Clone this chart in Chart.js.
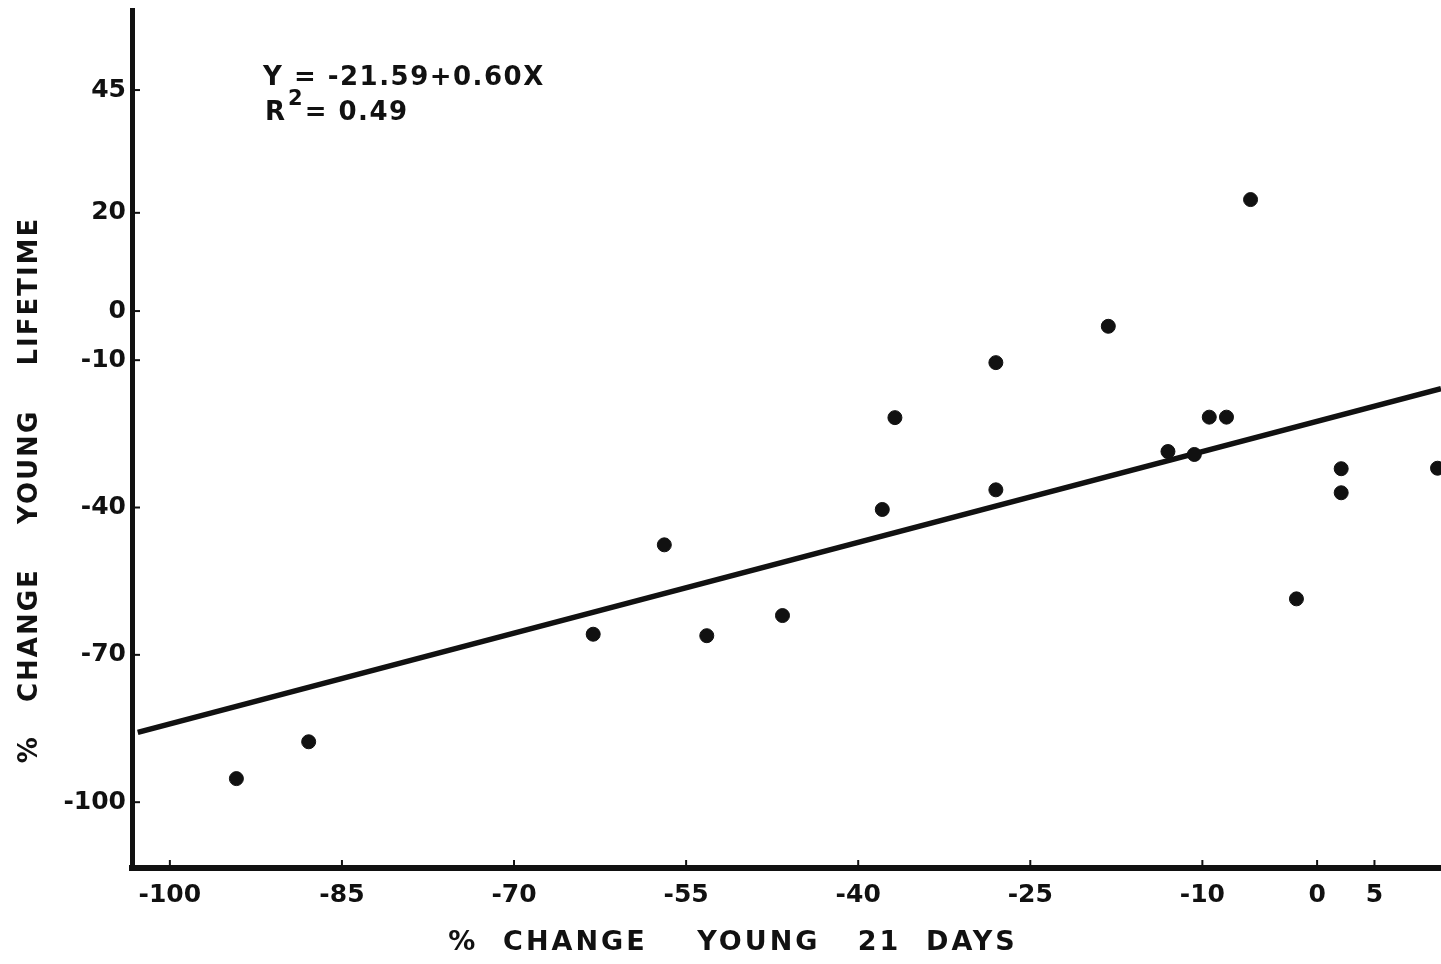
<!DOCTYPE html>
<html>
<head>
<meta charset="utf-8">
<script src="https://cdn.jsdelivr.net/npm/chart.js@4.4.0/dist/chart.umd.min.js"></script>
<style>
  html, body { margin: 0; padding: 0; background: #fff; }
</style>
</head>
<body>
<canvas id="myChart" width="1441" height="964"></canvas>
<script>
// % change young at 21 days (x) vs % change young over lifetime (y)
const youngDays = [-94.2, -87.9, -63.1, -56.9, -53.2, -46.6, -37.9, -36.8, -28.0, -28.0,
                   -18.2, -13.0, -10.7, -9.4, -7.9, -5.8, -1.8, 2.1, 2.1, 10.5];
const youngLifetime = [-95.2, -87.7, -65.8, -47.6, -66.1, -62.0, -40.4, -21.7, -10.5, -36.4,
                       -3.1, -28.6, -29.2, -21.6, -21.6, 22.7, -58.6, -32.1, -37.0, -32.0];
// ends of the fitted line as drawn
const fitX = [-102.8, 10.8];
const fitY = [-85.8, -15.8];
const xTicks = [-100, -85, -70, -55, -40, -25, -10, 0, 5];
const yTicks = [45, 20, 0, -10, -40, -70, -100];

const INK = '#111';
const FONT = '"DejaVu Sans", "Open Sans", sans-serif';

const extras = {
    id: 'extras',
    afterDraw(chart) {
        const {ctx, chartArea, scales} = chart;
        ctx.save();
        ctx.strokeStyle = INK;
        ctx.fillStyle = INK;
        ctx.lineWidth = 2;
        // little tick marks pointing into the plot
        yTicks.forEach(v => {
            const y = scales.y.getPixelForValue(v);
            ctx.beginPath();
            ctx.moveTo(chartArea.left, y);
            ctx.lineTo(chartArea.left + 8, y);
            ctx.stroke();
        });
        xTicks.forEach(v => {
            const x = scales.x.getPixelForValue(v);
            ctx.beginPath();
            ctx.moveTo(x, chartArea.bottom);
            ctx.lineTo(x, chartArea.bottom - 8);
            ctx.stroke();
        });

        // equation
        ctx.textBaseline = 'middle';
        ctx.textAlign = 'left';
        ctx.font = 'bold 26px ' + FONT;
        ctx.letterSpacing = '1.5px';
        ctx.fillText('Y = -21.59+0.60X', 263, 78);
        ctx.letterSpacing = '0px';
        ctx.fillText('R', 265, 113);
        const rw = ctx.measureText('R').width;
        ctx.font = 'bold 21px ' + FONT;
        ctx.fillText('2', 265 + rw + 3, 100);
        const tw = ctx.measureText('2').width;
        ctx.font = 'bold 26px ' + FONT;
        ctx.letterSpacing = '1.5px';
        ctx.fillText('= 0.49', 265 + rw + tw + 5, 113);

        // axis titles
        ctx.textAlign = 'center';
        ctx.font = 'bold 27px ' + FONT;
        ctx.letterSpacing = '3px';
        ctx.fillText('%  CHANGE    YOUNG   21  DAYS', 733, 943);
        ctx.translate(30, 490);
        ctx.rotate(-Math.PI / 2);
        ctx.font = 'bold 26px ' + FONT;
        ctx.letterSpacing = '2px';
        ctx.fillText('%   CHANGE    YOUNG    LIFETIME', 0, 0);
        ctx.restore();
    }
};

const ctx = document.getElementById('myChart');
new Chart(ctx, {
    type: 'scatter',
    data: {
        datasets: [{
            label: 'Plants',
            data: youngDays.map((x, i) => ({x: x, y: youngLifetime[i]})),
            backgroundColor: INK,
            borderColor: INK,
            pointRadius: 7,
            pointHoverRadius: 7
        }, {
            label: 'Fit',
            type: 'line',
            data: fitX.map((x, i) => ({x: x, y: fitY[i]})),
            borderColor: INK,
            borderWidth: 5.5,
            pointRadius: 0,
            fill: false
        }]
    },
    options: {
        responsive: false,
        animation: false,
        layout: { autoPadding: false, padding: { top: 10, left: 0, right: 0, bottom: 0 } },
        plugins: {
            legend: { display: false },
            tooltip: { enabled: false }
        },
        scales: {
            x: {
                type: 'linear',
                min: -103.3,
                max: 10.8,
                afterFit: scale => {
                    scale.height = 96;
                    scale.paddingLeft = 0;
                    scale.paddingRight = 0;
                },
                afterBuildTicks: scale => { scale.ticks = xTicks.map(v => ({value: v})); },
                grid: { display: false, drawTicks: false },
                border: { color: INK, width: 6 },
                ticks: {
                    color: INK,
                    padding: 12,
                    maxRotation: 0,
                    autoSkip: false,
                    font: { family: FONT, size: 25, weight: 'bold' },
                    callback: v => String(v)
                }
            },
            y: {
                type: 'linear',
                min: -113.4,
                max: 61.3,
                afterFit: scale => {
                    scale.width = 132;
                    scale.paddingTop = 0;
                    scale.paddingBottom = 0;
                },
                afterBuildTicks: scale => { scale.ticks = yTicks.map(v => ({value: v})); },
                grid: { display: false, drawTicks: false },
                border: { color: INK, width: 5 },
                ticks: {
                    color: INK,
                    padding: 6,
                    autoSkip: false,
                    font: { family: FONT, size: 25, weight: 'bold' },
                    callback: v => String(v)
                }
            }
        }
    },
    plugins: [extras]
});
</script>
</body>
</html>
